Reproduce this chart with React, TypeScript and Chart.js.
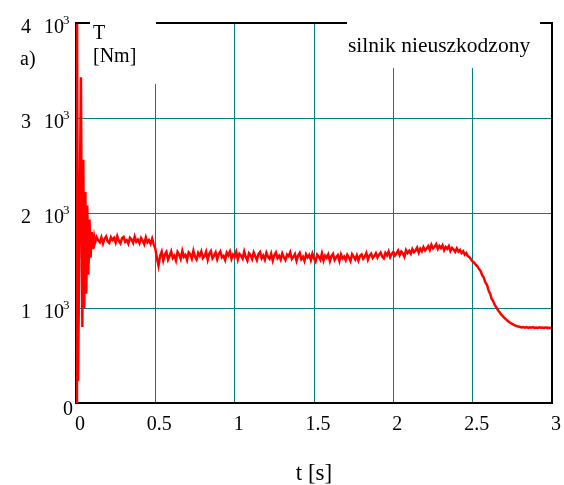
import React, { useEffect, useRef } from 'react';
import { Chart, registerables } from 'chart.js';

Chart.register(...registerables);

// Start-up transient (time in s, torque in Nm)
const transientTimes = [0, 0.006, 0.013, 0.031, 0.04, 0.046, 0.052, 0.059, 0.065, 0.071, 0.078, 0.085, 0.092, 0.1, 0.108, 0.115];
const transientTorque = [0, 4500, 230, 3430, 800, 2560, 1000, 2220, 1150, 2080, 1350, 1930, 1530, 1800, 1620, 1740];

// Sampled torque from 0.12 s to 3.00 s every 0.01 s
const steadyStart = 0.12;
const steadyStep = 0.01;
const steadyTorque = [
  1688, 1745, 1712, 1692, 1742, 1678, 1728, 1752,
  1700, 1684, 1744, 1715, 1738, 1688, 1755, 1705, 1680, 1734,
  1748, 1696, 1714, 1676, 1740, 1722, 1686, 1752, 1698, 1720,
  1682, 1736, 1708, 1672, 1744, 1692, 1714, 1676, 1730, 1670,
  1625, 1525, 1445, 1550, 1594, 1500, 1562, 1590, 1510, 1548,
  1595, 1526, 1550, 1500, 1590, 1562, 1516, 1600, 1538, 1558,
  1505, 1585, 1566, 1520, 1602, 1540, 1510, 1580, 1550, 1595,
  1526, 1545, 1592, 1508, 1572, 1600, 1524, 1552, 1585, 1514,
  1568, 1596, 1532, 1548, 1505, 1582, 1555, 1594, 1518, 1562,
  1538, 1590, 1510, 1570, 1550, 1520, 1594, 1536, 1500, 1576,
  1556, 1516, 1584, 1545, 1505, 1568, 1590, 1524, 1552, 1508,
  1580, 1540, 1518, 1572, 1500, 1556, 1585, 1526, 1550, 1510,
  1575, 1534, 1504, 1562, 1545, 1586, 1516, 1538, 1568, 1498,
  1552, 1580, 1514, 1540, 1495, 1566, 1534, 1558, 1505, 1572,
  1522, 1490, 1562, 1540, 1508, 1575, 1500, 1550, 1528, 1564,
  1494, 1546, 1570, 1505, 1535, 1556, 1495, 1565, 1522, 1542,
  1504, 1560, 1532, 1494, 1566, 1540, 1510, 1554, 1500, 1548,
  1564, 1518, 1540, 1580, 1510, 1552, 1572, 1526, 1546, 1576,
  1532, 1562, 1584, 1542, 1524, 1580, 1555, 1594, 1536, 1570,
  1590, 1552, 1574, 1604, 1556, 1594, 1575, 1540, 1610, 1580,
  1602, 1572, 1620, 1588, 1606, 1636, 1584, 1624, 1598, 1640,
  1606, 1626, 1652, 1612, 1665, 1628, 1644, 1672, 1622, 1654,
  1630, 1660, 1608, 1642, 1622, 1652, 1600, 1632, 1614, 1592,
  1628, 1594, 1612, 1578, 1598, 1562, 1578, 1545, 1536, 1510,
  1490, 1475, 1455, 1440, 1410, 1390, 1345, 1320, 1270, 1245,
  1185, 1150, 1095, 1070, 1030, 1005, 975, 955, 930, 915,
  895, 880, 865, 852, 840, 832, 822, 815, 808, 805,
  800, 795, 800, 792, 798, 790, 796, 793, 799, 791,
  795, 790, 797, 792, 794, 789, 796, 791, 793, 790, 792,
];

const xTicks = [0, 0.5, 1, 1.5, 2, 2.5, 3];
const xTickLabels = ['0', '0.5', '1', '1.5', '2', '2.5', '3'];
const yTicks = [0, 1000, 2000, 3000, 4000];
const yTickMantissas = ['0', '1', '2', '3', '4'];
const xTitle = 't [s]';
const yTitle = ['T', '[Nm]'];
const panelLabel = 'a)';
const legendText = 'silnik nieuszkodzony';

const SERIF = '"Liberation Serif", "Times New Roman", serif';

const labelsPlugin = {
  id: 'mathcadLabels',
  afterDraw(chart: any) {
    const { ctx, chartArea, scales } = chart;
    const { left, right, top, bottom } = chartArea;
    ctx.save();
    // top & right frame
    ctx.strokeStyle = '#000';
    ctx.lineWidth = 2;
    ctx.beginPath();
    ctx.moveTo(left, top);
    ctx.lineTo(right, top);
    ctx.lineTo(right, bottom);
    ctx.stroke();

    // white boxes behind the labels
    ctx.fillStyle = '#fff';
    ctx.fillRect(90, 0, 66, 84);
    ctx.fillRect(347, 0, 193, 68);

    ctx.fillStyle = '#000';
    ctx.textBaseline = 'alphabetic';

    // y title
    ctx.font = `20px ${SERIF}`;
    ctx.textAlign = 'left';
    ctx.fillText(yTitle[0], 93, 39);
    ctx.fillText(yTitle[1], 93, 62);
    ctx.fillText(panelLabel, 20, 65);

    // legend text
    ctx.font = `21.5px ${SERIF}`;
    ctx.fillText(legendText, 348, 52);

    // y tick labels
    const ys = scales.y;
    yTicks.forEach((v, i) => {
      const py = ys.getPixelForValue(v);
      if (v === 0) {
        ctx.font = `20px ${SERIF}`;
        ctx.textAlign = 'right';
        ctx.fillText(yTickMantissas[i], 73, py + 12);
        return;
      }
      ctx.textAlign = 'left';
      ctx.font = `20px ${SERIF}`;
      ctx.fillText(yTickMantissas[i], 21, py + 10);
      ctx.fillText('10', 44, py + 10);
      ctx.font = `13px ${SERIF}`;
      ctx.fillText('3', 63, py + 1);
    });

    // x tick labels
    const xs = scales.x;
    ctx.font = `20px ${SERIF}`;
    ctx.textAlign = 'center';
    xTicks.forEach((v, i) => {
      const px = xs.getPixelForValue(v);
      ctx.fillText(xTickLabels[i], px + 4, 430);
    });

    // x title
    ctx.font = `23px ${SERIF}`;
    ctx.fillText(xTitle, (left + right) / 2, 480);
    ctx.restore();
  },
};

export default function App() {
  const canvasRef = useRef<HTMLCanvasElement | null>(null);

  useEffect(() => {
    const canvas = canvasRef.current;
    if (!canvas) return;
    const points: { x: number; y: number }[] = [];
    transientTimes.forEach((t, i) => points.push({ x: t, y: transientTorque[i] }));
    steadyTorque.forEach((v, i) => points.push({ x: +(steadyStart + i * steadyStep).toFixed(3), y: v }));

    const chart = new Chart(canvas, {
      type: 'line',
      data: {
        datasets: [
          {
            data: points,
            borderColor: '#ff0000',
            borderWidth: 2.5,
            pointRadius: 0,
            tension: 0,
            fill: false,
          },
        ],
      },
      options: {
        animation: false,
        responsive: false,
        devicePixelRatio: 1,
        layout: { padding: { left: 76, right: 12, top: 23, bottom: 82 } },
        plugins: { legend: { display: false }, tooltip: { enabled: false } },
        scales: {
          x: {
            type: 'linear',
            min: 0,
            max: 3,
            afterBuildTicks: (s: any) => {
              s.ticks = xTicks.map((v) => ({ value: v }));
            },
            ticks: { display: false },
            grid: { color: '#008080', lineWidth: 1, drawTicks: false },
            border: { color: '#000', width: 2 },
          },
          y: {
            type: 'linear',
            min: 0,
            max: 4000,
            afterBuildTicks: (s: any) => {
              s.ticks = yTicks.map((v) => ({ value: v }));
            },
            ticks: { display: false },
            grid: { color: '#008080', lineWidth: 1, drawTicks: false },
            border: { color: '#000', width: 2 },
          },
        },
      },
      plugins: [labelsPlugin],
    });
    return () => {
      chart.destroy();
    };
  }, []);

  return (
    <div style={{ position: 'fixed', left: 0, top: 0, width: 564, height: 485, background: '#fff' }}>
      <canvas ref={canvasRef} width={564} height={485} style={{ display: 'block' }} />
    </div>
  );
}
